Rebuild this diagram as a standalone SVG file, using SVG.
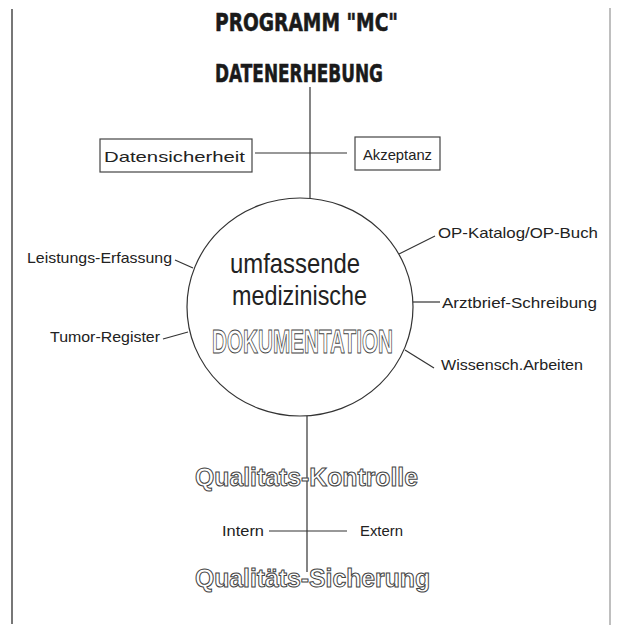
<svg xmlns="http://www.w3.org/2000/svg" width="618" height="631" viewBox="0 0 618 631">
<style>
.lbl{font-family:"Liberation Sans",Arial,sans-serif;font-size:14.5px;fill:#222}
.ttl{font-family:"DejaVu Sans","Liberation Sans",sans-serif;font-weight:bold;font-size:25px;fill:#1a1a1a;stroke:#1a1a1a;stroke-width:0.6}
.big{font-family:"Liberation Sans",Arial,sans-serif;font-size:28px;fill:#222}
.out{font-family:"Liberation Sans",Arial,sans-serif;font-weight:bold;fill:#fff;stroke:#444;stroke-width:1}
.ln{stroke:#333;stroke-width:1.2;fill:none}
.box{fill:#fff;stroke:#444;stroke-width:1.2}
</style>
<rect width="618" height="631" fill="#fff"/>
<g id="frame">
<line x1="12" y1="9" x2="12" y2="624" stroke="#777" stroke-width="2"/>
<line x1="610" y1="8" x2="610" y2="625" stroke="#aaa" stroke-width="1.5"/>
</g>
<g id="connectors">
<line class="ln" x1="310" y1="87" x2="310" y2="198"/>
<line class="ln" x1="255" y1="153" x2="347" y2="153"/>
<line class="ln" x1="307" y1="416" x2="307" y2="572"/>
<line class="ln" x1="269" y1="531" x2="347" y2="531"/>
<line class="ln" x1="175" y1="260" x2="193" y2="268"/>
<line class="ln" x1="163" y1="339" x2="188" y2="332"/>
<line class="ln" x1="435" y1="236" x2="399" y2="254"/>
<line class="ln" x1="413" y1="302" x2="440" y2="302"/>
<line class="ln" x1="405" y1="350" x2="434" y2="368"/>
</g>
<g id="title">
<text class="ttl" x="215" y="31" textLength="183" lengthAdjust="spacingAndGlyphs">PROGRAMM "MC"</text>
</g>
<g id="datenerhebung">
<text class="ttl" x="215" y="82" textLength="168" lengthAdjust="spacingAndGlyphs">DATENERHEBUNG</text>
</g>
<g id="datensicherheit">
<rect class="box" x="100" y="139" width="152" height="33"/>
<text class="lbl" x="104" y="162" font-size="17" textLength="141" lengthAdjust="spacingAndGlyphs">Datensicherheit</text>
</g>
<g id="akzeptanz">
<rect class="box" x="355" y="137" width="85" height="33"/>
<text class="lbl" x="363" y="160" font-size="17" textLength="69" lengthAdjust="spacingAndGlyphs">Akzeptanz</text>
</g>
<g id="dokumentation">
<ellipse cx="300" cy="307" rx="113" ry="109" fill="#fff" stroke="#333" stroke-width="1.2"/>
<text class="big" x="230" y="273" textLength="130" lengthAdjust="spacingAndGlyphs">umfassende</text>
<text class="big" x="232" y="305" textLength="135" lengthAdjust="spacingAndGlyphs">medizinische</text>
<text class="out" x="212" y="353" font-size="33" textLength="181" lengthAdjust="spacingAndGlyphs">DOKUMENTATION</text>
</g>
<g id="leistungs">
<text class="lbl" x="27" y="263" textLength="145" lengthAdjust="spacingAndGlyphs">Leistungs-Erfassung</text>
</g>
<g id="tumor">
<text class="lbl" x="50" y="342" textLength="110" lengthAdjust="spacingAndGlyphs">Tumor-Register</text>
</g>
<g id="opkatalog">
<text class="lbl" x="438" y="238" textLength="160" lengthAdjust="spacingAndGlyphs">OP-Katalog/OP-Buch</text>
</g>
<g id="arztbrief">
<text class="lbl" x="442" y="308" textLength="155" lengthAdjust="spacingAndGlyphs">Arztbrief-Schreibung</text>
</g>
<g id="wissensch">
<text class="lbl" x="441" y="370" textLength="142" lengthAdjust="spacingAndGlyphs">Wissensch.Arbeiten</text>
</g>
<g id="kontrolle">
<text class="out" x="195" y="486" font-size="25" textLength="223" lengthAdjust="spacingAndGlyphs">Qualitats-Kontrolle</text>
</g>
<g id="intern">
<text class="lbl" x="222" y="536" textLength="42" lengthAdjust="spacingAndGlyphs">Intern</text>
</g>
<g id="extern">
<text class="lbl" x="360" y="536" textLength="43" lengthAdjust="spacingAndGlyphs">Extern</text>
</g>
<g id="sicherung">
<text class="out" x="195" y="587" font-size="25" textLength="235" lengthAdjust="spacingAndGlyphs">Qualitäts-Sicherung</text>
</g>
</svg>
